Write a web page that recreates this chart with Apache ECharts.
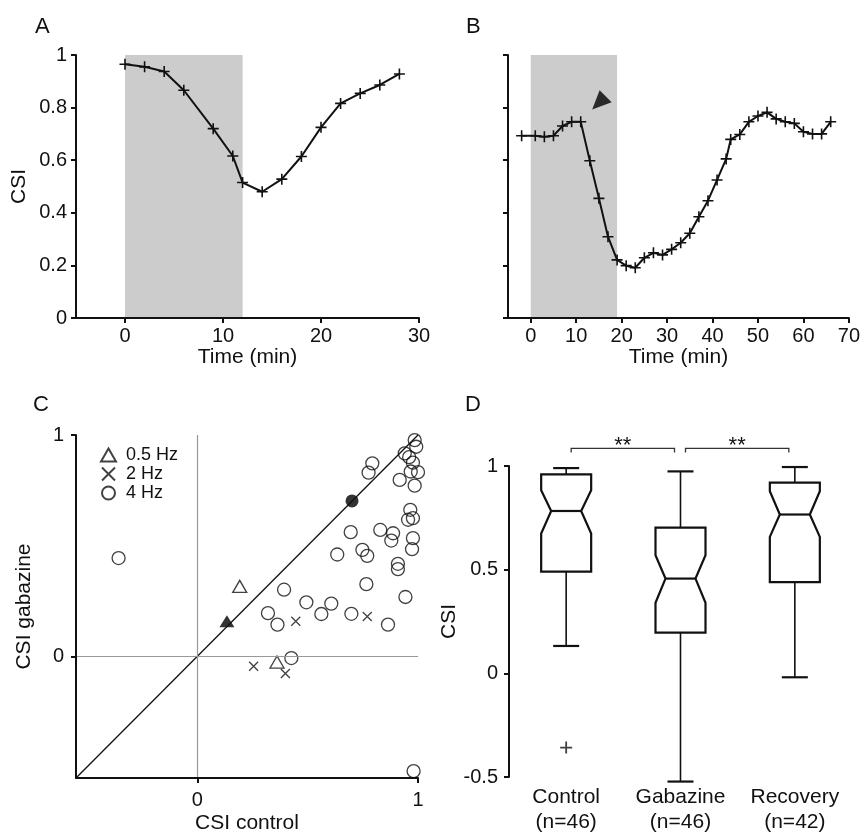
<!DOCTYPE html>
<html>
<head>
<meta charset="utf-8">
<title>CSI figure</title>
<script src="https://cdn.jsdelivr.net/npm/echarts@6.0.0/dist/echarts.min.js"></script>
<style>
  html, body { margin: 0; padding: 0; background: #fff; }
  #main { width: 863px; height: 836px; }
</style>
</head>
<body>
<div id="main"></div>
<script>
// A: time course, one cell
var timeA = [0, 2, 4, 6, 9, 11, 12, 14, 16, 18, 20, 22, 24, 26, 28];
var csiA = [0.965, 0.955, 0.937, 0.866, 0.72, 0.616, 0.515, 0.48, 0.528, 0.614, 0.725, 0.816, 0.854, 0.886, 0.928];
var drugA = [0, 12];
var ticksA = [0, 10, 20, 30];

// B: time course, another cell
var timeB = [-2, 1, 3, 5, 7, 9, 11, 13, 15, 17, 19, 21, 23, 25, 27, 29, 31, 33, 35, 37, 39,
             41, 43, 44, 46, 48, 50, 52, 54, 56, 58, 60, 62, 64, 66];
var csiB = [0.693, 0.693, 0.689, 0.693, 0.73, 0.746, 0.746, 0.598, 0.455, 0.309, 0.221, 0.199, 0.191,
            0.229, 0.248, 0.24, 0.261, 0.286, 0.322, 0.385, 0.446, 0.525, 0.605, 0.679, 0.698, 0.746,
            0.768, 0.782, 0.757, 0.746, 0.74, 0.708, 0.70, 0.70, 0.746];
var drugB = [0, 19];
var ticksB = [0, 10, 20, 30, 40, 50, 60, 70];
var arrowB = [[15, 0.818]];

// C: CSI control vs CSI gabazine
var hz05 = [[0.192, 0.316], [0.361, -0.026]];
var hz2 = [[0.446, 0.158], [0.77, 0.18], [0.255, -0.045], [0.399, -0.078]];
var hz4 = [
  [-0.357, 0.444], [0.985, 0.977], [0.992, 0.947], [0.94, 0.917], [0.96, 0.9], [0.977, 0.875],
  [0.793, 0.872], [0.776, 0.83], [0.967, 0.835], [1.0, 0.832], [0.917, 0.797], [0.985, 0.771],
  [0.965, 0.662], [0.977, 0.624], [0.955, 0.617], [0.695, 0.561], [0.829, 0.571], [0.887, 0.556],
  [0.879, 0.523], [0.977, 0.534], [0.973, 0.484], [0.748, 0.481], [0.77, 0.454], [0.634, 0.46],
  [0.909, 0.418], [0.909, 0.394], [0.766, 0.326], [0.393, 0.301], [0.943, 0.268], [0.494, 0.244],
  [0.607, 0.238], [0.32, 0.195], [0.562, 0.191], [0.698, 0.192], [0.363, 0.143], [0.864, 0.143],
  [0.426, -0.008], [0.98, -0.519]
];
var cellA = [[0.134, 0.158]];   // filled triangle
var cellB = [[0.701, 0.702]];   // filled circle
var unity = [[-0.55, -0.55], [1, 1]];
var ticksC = [0, 1];

// D: notched boxes
var groups = ['Control\n(n=46)', 'Gabazine\n(n=46)', 'Recovery\n(n=42)'];
// low whisker, Q1, notch low, median, notch high, Q3, high whisker
var boxes = [
  [0.132, 0.491, 0.674, 0.783, 0.883, 0.96, 0.99],
  [-0.522, 0.196, 0.34, 0.457, 0.57, 0.703, 0.974],
  [-0.019, 0.44, 0.658, 0.766, 0.878, 0.92, 0.995]
];
var outliers = [[0, -0.358]];
var pairs = [[0, 1], [1, 2]];
var pairLabels = ['**', '**'];

var FONT = 'Liberation Sans, Arial, sans-serif';
var INK = '#111';
var PLUS = 'path://M0,6L12,6M6,0L6,12';
var CROSS = 'path://M0,0L10,10M10,0L0,10';

function axisBase(extra) {
  var a = {
    z: 5,
    splitLine: {show: false},
    axisLine: {onZero: false, lineStyle: {color: INK, width: 2}},
    axisTick: {length: 5, lineStyle: {color: INK, width: 2}},
    axisLabel: {color: INK, fontSize: 20, fontFamily: FONT},
    nameLocation: 'middle',
    nameTextStyle: {color: INK, fontSize: 21, fontFamily: FONT}
  };
  for (var k in extra) {
    if (typeof extra[k] === 'object' && a[k] && !Array.isArray(extra[k])) {
      a[k] = Object.assign({}, a[k], extra[k]);
    } else {
      a[k] = extra[k];
    }
  }
  return a;
}

function zip(xs, ys) {
  var res = [];
  for (var i = 0; i < xs.length; i++) res.push([xs[i], ys[i]]);
  return res;
}

function renderBox(params, api) {
  var i = api.value(0);
  var x = api.coord([i, api.value(4)])[0];
  var y = function (k) { return api.coord([i, api.value(k)])[1]; };
  var wLo = y(1), q1 = y(2), nLo = y(3), med = y(4), nHi = y(5), q3 = y(6), wHi = y(7);
  var hw = 25, inset = 10, cap = 13;
  var L = x - hw, R = x + hw;
  var thick = {stroke: INK, lineWidth: 2.2, fill: 'none'};
  var thin = {stroke: INK, lineWidth: 1.6, fill: 'none'};
  return {
    type: 'group',
    children: [
      {type: 'polygon', shape: {points: [[L, q3], [R, q3], [R, nHi], [R - inset, med], [R, nLo], [R, q1],
        [L, q1], [L, nLo], [L + inset, med], [L, nHi]]}, style: thick},
      {type: 'line', shape: {x1: L + inset, y1: med, x2: R - inset, y2: med}, style: thick},
      {type: 'line', shape: {x1: x, y1: q3, x2: x, y2: wHi}, style: thin},
      {type: 'line', shape: {x1: x - cap, y1: wHi, x2: x + cap, y2: wHi}, style: thick},
      {type: 'line', shape: {x1: x, y1: q1, x2: x, y2: wLo}, style: thin},
      {type: 'line', shape: {x1: x - cap, y1: wLo, x2: x + cap, y2: wLo}, style: thick}
    ]
  };
}

function renderBracket(params, api) {
  var a = api.coord([api.value(0), 1.085]);
  var b = api.coord([api.value(1), 1.085]);
  var x1 = a[0] + 5, x2 = b[0] - 6, y = a[1];
  return {
    type: 'group',
    children: [
      {type: 'polyline', shape: {points: [[x1, y + 4], [x1, y], [x2, y], [x2, y + 4]]},
        style: {stroke: '#333', lineWidth: 1.3, fill: 'none'}},
      {type: 'text', style: {text: pairLabels[params.dataIndex], x: (x1 + x2) / 2, y: y - 2,
        align: 'center', verticalAlign: 'middle', fontSize: 22, fontFamily: FONT, fill: INK}}
    ]
  };
}

var option = {
  animation: false,
  backgroundColor: '#fff',
  textStyle: {fontFamily: FONT, color: INK},
  title: [
    {text: 'A', left: 30, top: 11},
    {text: 'B', left: 461, top: 11},
    {text: 'C', left: 28, top: 389},
    {text: 'D', left: 460, top: 389}
  ].map(function (t) {
    t.textStyle = {fontSize: 22, fontWeight: 'normal', color: INK, fontFamily: FONT};
    return t;
  }),
  legend: {
    data: ['0.5 Hz', '2 Hz', '4 Hz'],
    orient: 'vertical',
    left: 95, top: 441,
    itemWidth: 15, itemHeight: 13, itemGap: 1,
    selectedMode: false,
    textStyle: {fontSize: 18, color: INK, fontFamily: FONT, padding: [0, 0, 0, 5]}
  },
  grid: [
    {left: 76, top: 55, width: 343, height: 263},
    {left: 508, top: 55, width: 344, height: 263},
    {left: 76, top: 435, width: 342, height: 343},
    {left: 509, top: 466, width: 343, height: 311}
  ],
  xAxis: [
    axisBase({gridIndex: 0, type: 'value', min: -5, max: 30, name: 'Time (min)', nameGap: 29,
      axisTick: {customValues: ticksA}, axisLabel: {customValues: ticksA, margin: 8}}),
    axisBase({gridIndex: 1, type: 'value', min: -5, max: 70, name: 'Time (min)', nameGap: 29,
      axisTick: {customValues: ticksB}, axisLabel: {customValues: ticksB, margin: 8}}),
    axisBase({gridIndex: 2, type: 'value', min: -0.55, max: 1, name: 'CSI control', nameGap: 35,
      axisTick: {customValues: ticksC}, axisLabel: {customValues: ticksC, margin: 12}}),
    axisBase({gridIndex: 3, type: 'category', data: groups, boundaryGap: true,
      axisLine: {show: false, onZero: false}, axisTick: {show: false},
      axisLabel: {margin: 8, lineHeight: 25, fontSize: 21, interval: 0, hideOverlap: false}})
  ],
  yAxis: [
    axisBase({gridIndex: 0, type: 'value', min: 0, max: 1, interval: 0.2, name: 'CSI', nameGap: 46,
      axisLabel: {margin: 9}}),
    axisBase({gridIndex: 1, type: 'value', min: 0, max: 1, interval: 0.2,
      axisLabel: {show: false}}),
    axisBase({gridIndex: 2, type: 'value', min: -0.55, max: 1, name: 'CSI gabazine', nameGap: 41,
      axisTick: {customValues: ticksC}, axisLabel: {customValues: ticksC, margin: 12}}),
    axisBase({gridIndex: 3, type: 'value', min: -0.5, max: 1, interval: 0.5, name: 'CSI', nameGap: 29,
      axisLine: {show: true, onZero: false}, axisTick: {show: true},
      axisLabel: {margin: 11}})
  ],
  series: [
    {
      type: 'line', xAxisIndex: 0, yAxisIndex: 0,
      data: zip(timeA, csiA),
      symbol: PLUS, symbolSize: 11,
      lineStyle: {color: INK, width: 2},
      itemStyle: {color: INK, borderColor: INK, borderWidth: 1.6},
      markArea: {silent: true, itemStyle: {color: '#cccccc'},
        data: [[{xAxis: drugA[0]}, {xAxis: drugA[1]}]]}
    },
    {
      type: 'line', xAxisIndex: 1, yAxisIndex: 1,
      data: zip(timeB, csiB),
      symbol: PLUS, symbolSize: 11,
      lineStyle: {color: INK, width: 2},
      itemStyle: {color: INK, borderColor: INK, borderWidth: 1.6},
      markArea: {silent: true, itemStyle: {color: '#cccccc'},
        data: [[{xAxis: drugB[0]}, {xAxis: drugB[1]}]]}
    },
    {
      type: 'scatter', xAxisIndex: 1, yAxisIndex: 1,
      data: arrowB,
      symbol: 'triangle', symbolSize: [17, 19], symbolRotate: 135,
      itemStyle: {color: '#000'}
    },
    {
      type: 'line', xAxisIndex: 2, yAxisIndex: 2,
      data: unity, symbol: 'none',
      lineStyle: {color: INK, width: 1.3},
      markLine: {silent: true, symbol: 'none', label: {show: false},
        lineStyle: {color: '#999', width: 1.2, type: 'solid'},
        data: [{xAxis: 0}, {yAxis: 0}]}
    },
    {
      name: '0.5 Hz', type: 'scatter', xAxisIndex: 2, yAxisIndex: 2,
      data: hz05, symbol: 'triangle', symbolSize: [14, 12],
      itemStyle: {color: 'rgba(255,255,255,0)', borderColor: INK, borderWidth: 1.3}
    },
    {
      name: '2 Hz', type: 'scatter', xAxisIndex: 2, yAxisIndex: 2,
      data: hz2, symbol: CROSS, symbolSize: 9,
      itemStyle: {color: 'rgba(255,255,255,0)', borderColor: INK, borderWidth: 1.3}
    },
    {
      name: '4 Hz', type: 'scatter', xAxisIndex: 2, yAxisIndex: 2,
      data: hz4, symbol: 'circle', symbolSize: 13,
      itemStyle: {color: 'rgba(255,255,255,0)', borderColor: INK, borderWidth: 1.3}
    },
    {
      type: 'scatter', xAxisIndex: 2, yAxisIndex: 2,
      data: cellA, symbol: 'triangle', symbolSize: [15, 12],
      itemStyle: {color: '#000'}
    },
    {
      type: 'scatter', xAxisIndex: 2, yAxisIndex: 2,
      data: cellB, symbol: 'circle', symbolSize: 13,
      itemStyle: {color: '#000'}
    },
    {
      type: 'custom', xAxisIndex: 3, yAxisIndex: 3,
      renderItem: renderBox,
      encode: {x: 0, y: [1, 2, 3, 4, 5, 6, 7]},
      data: boxes.map(function (b, i) { return [i].concat(b); })
    },
    {
      type: 'scatter', xAxisIndex: 3, yAxisIndex: 3,
      data: outliers, symbol: PLUS, symbolSize: 12,
      itemStyle: {color: INK, borderColor: INK, borderWidth: 1.8}
    },
    {
      type: 'custom', xAxisIndex: 3, yAxisIndex: 3,
      renderItem: renderBracket, clip: false,
      encode: {x: 0},
      data: pairs
    }
  ]
};

var myChart = echarts.init(document.getElementById('main'));
myChart.setOption(option);
</script>
</body>
</html>
